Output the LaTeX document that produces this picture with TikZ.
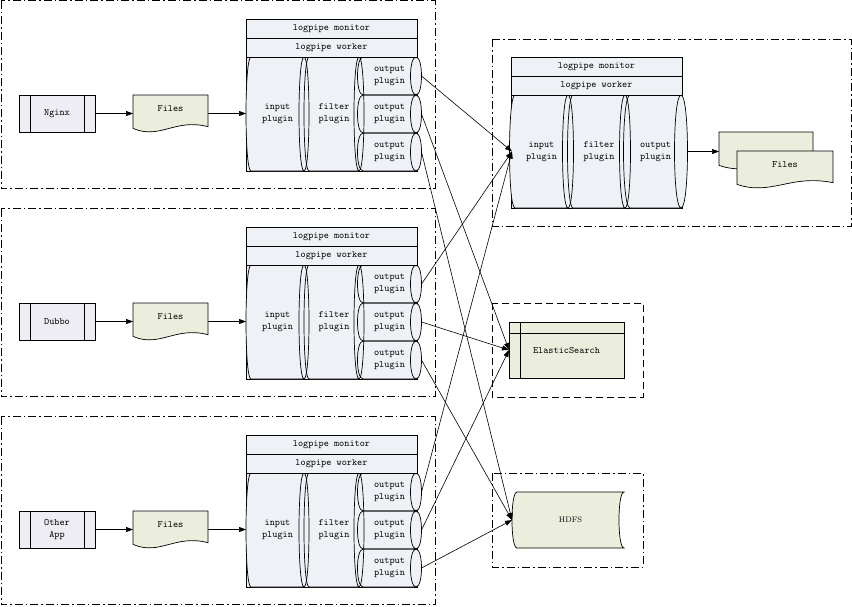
\documentclass[tikz,border=0pt]{standalone}
\usepackage{tikz}
\usetikzlibrary{arrows.meta,positioning,calc,backgrounds}
\definecolor{SrcFill}{HTML}{EFEDF4}
\definecolor{DocFill}{HTML}{EBEEDD}
\definecolor{PipeFill}{HTML}{EEF1F6}
% outline of a plugin: flat cylinder lying on its side
\newcommand{\plugpath}[2]{(#1.north west) -- (#1.north east) .. controls +(4/3*#2,0) and +(4/3*#2,0) .. (#1.south east) -- (#1.south west) .. controls +(-4/3*#2,0) and +(-4/3*#2,0) .. (#1.north west) -- cycle (#1.north east) .. controls +(-4/3*#2,0) and +(-4/3*#2,0) .. (#1.south east)}
% outline of a document with a wavy lower edge
\newcommand{\docpath}[1]{(#1.north west) -- (#1.north east) -- ($(#1.south east)+(0,3.7)$) .. controls ($(#1.south east)!0.44!(#1.south west)+(0,-5)$) and ($(#1.south west)!0.36!(#1.south east)+(0,17)$) .. ($(#1.south west)+(0,5.4)$) -- cycle}

\begin{document}
\begin{tikzpicture}[x=1pt,y=-1pt,>={Triangle[length=7pt,width=5pt]}]
  \tikzset{every node/.style={inner sep=0pt, outer sep=0pt, align=center, font=\fontsize{9.8}{12}\selectfont\ttfamily},
    grpframe/.style={line width=0.6pt, dash pattern=on 8pt off 3pt on 1.5pt off 3pt},
    storeframe/.style={line width=0.6pt, dash pattern=on 7pt off 4pt},
    srcbox/.style={draw, fill=SrcFill, line width=0.7pt, minimum width=76pt, minimum height=37pt,
      path picture={\draw ([xshift=11pt]path picture bounding box.north west) -- ([xshift=11pt]path picture bounding box.south west)
        ([xshift=-11pt]path picture bounding box.north east) -- ([xshift=-11pt]path picture bounding box.south east);}},
    docbox/.style={minimum height=28pt},
    docline/.style={draw, fill=DocFill, line width=0.7pt},
    pipebar/.style={draw, fill=PipeFill, line width=0.7pt, minimum width=171pt, minimum height=19pt},
    plugbox/.style={minimum height=114pt},
    outbox/.style={minimum width=53pt, minimum height=38pt},
    plugline/.style={draw, line width=0.7pt},
    esbox/.style={draw, fill=DocFill, line width=0.7pt, minimum width=115pt, minimum height=56pt,
      path picture={\draw ([xshift=11pt]path picture bounding box.north west) -- ([xshift=11pt]path picture bounding box.south west)
        ([yshift=-11pt]path picture bounding box.north west) -- ([yshift=-11pt]path picture bounding box.north east);}},
    hdfsbox/.style={minimum width=107pt, minimum height=56pt, font=\fontsize{8}{9}\selectfont\rmfamily},
    link/.style={->, line width=0.6pt}}
  \useasboundingbox (0,0) rectangle (852,606);

  % three sources, each with its own logpipe
  \foreach \g/\dy/\src in {1/0/Nginx,2/208/Dubbo,3/416/{Other\\App}}{
    \node[srcbox] (src\g) at (57,113.5+\dy) {\src};
    \node[docbox, minimum width=75pt] (file\g) at (170.5,109+\dy) {Files};
    \node[pipebar] (mon\g) at (331.5,28.5+\dy) {logpipe monitor};
    \node[pipebar, below=0pt of mon\g] (wrk\g) {logpipe worker};
    \node[plugbox, minimum width=171pt, below=0pt of wrk\g] (area\g) {};
    \node[plugbox, minimum width=53pt, right=5pt of area\g.west] (in\g) {input\\plugin};
    \node[plugbox, minimum width=50pt, right=5pt of in\g] (flt\g) {filter\\plugin};
    \node[outbox, below right=0pt and 4pt of flt\g.north east] (outa\g) {output\\plugin};
    \node[outbox, below=0pt of outa\g] (outb\g) {output\\plugin};
    \node[outbox, below=0pt of outb\g] (outc\g) {output\\plugin};
    \draw[grpframe] (1,0.5+\dy) rectangle (435,188.5+\dy);
  }

  % collecting logpipe
  \node[pipebar] (rmon) at (596.5,66.5) {logpipe monitor};
  \node[pipebar, below=0pt of rmon] (rwrk) {logpipe worker};
  \node[minimum width=171pt, minimum height=113pt, below=0pt of rwrk] (rarea) {};
  \node[minimum width=53pt, minimum height=113pt, right=4pt of rarea.west] (rin) {input\\plugin};
  \node[minimum width=52pt, minimum height=113pt, right=5pt of rin] (rflt) {filter\\plugin};
  \node[minimum width=51pt, minimum height=113pt, right=5pt of rflt] (rout) {output\\plugin};
  \node[docbox, minimum width=94pt] (rfileb) at (766,146) {};
  \node[docbox, minimum width=96pt] (rfile) at (785,165) {Files};
  \draw[grpframe] (492,39) rectangle (851,226.5);

  % stores
  \node[esbox] (es) at (566.5,350) {ElasticSearch};
  \draw[storeframe] (492,303) rectangle (643,397);
  \node[hdfsbox] (hdfs) at (570.5,520) {HDFS};
  \draw[grpframe] (492,473) rectangle (643,567);

  \begin{scope}[on background layer]
    \foreach \g in {1,2,3}{
      \draw[plugline, fill=PipeFill] (area\g.north west) rectangle (area\g.south east);
      \foreach \p/\r in {in/5,flt/5,outa/5.5,outb/5.5,outc/5.5}{\fill[PipeFill] \plugpath{\p\g}{\r};}
      \foreach \p/\r in {in/5,flt/5,outa/5.5,outb/5.5,outc/5.5}{\draw[plugline] \plugpath{\p\g}{\r};}
      \draw[docline] \docpath{file\g};
    }
    \draw[plugline, fill=PipeFill] (rarea.north west) rectangle (rarea.south east);
    \foreach \p/\r in {rin/5.5,rflt/5.5,rout/6.5}{\fill[PipeFill] \plugpath{\p}{\r};}
    \foreach \p/\r in {rin/5.5,rflt/5.5,rout/6.5}{\draw[plugline] \plugpath{\p}{\r};}
    \draw[docline] \docpath{rfileb};
    \draw[docline] \docpath{rfile};
    \draw[docline] (hdfs.north west) -- (hdfs.north east) .. controls +(-6.7,0) and +(-6.7,0) .. (hdfs.south east) -- (hdfs.south west) .. controls +(-6.7,0) and +(-6.7,0) .. (hdfs.north west) -- cycle;
  \end{scope}

  \foreach \g in {1,2,3}{
    \draw[link] (src\g) -- (src\g -| file\g.west);
    \draw[link] (src\g -| file\g.east) -- (src\g -| area\g.west);
    \draw[link] ([xshift=5.5pt]outa\g.east) -- ([xshift=-3pt]rin.west);
    \draw[link] ([xshift=5.5pt]outb\g.east) -- (es.west);
    \draw[link] ([xshift=5.5pt]outc\g.east) -- ([xshift=-5pt]hdfs.west);
  }
  \draw[link] ([xshift=6.5pt]rout.east) -- (rout -| rfileb.west);
\end{tikzpicture}
\end{document}
